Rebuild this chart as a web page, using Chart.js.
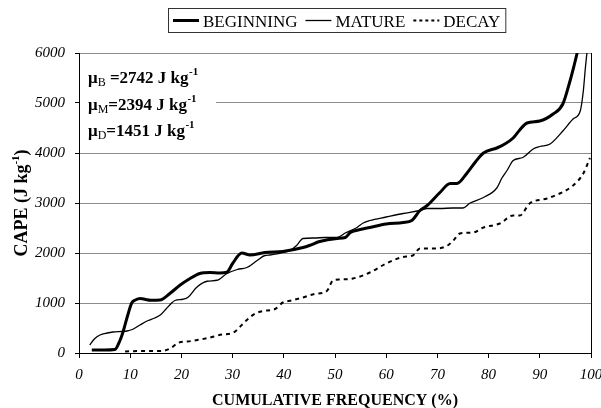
<!DOCTYPE html>
<html><head><meta charset="utf-8">
<script src="https://cdn.jsdelivr.net/npm/chart.js@4/dist/chart.umd.min.js"></script>
<style>html,body{margin:0;padding:0;background:#fff}canvas{display:block}</style>
</head><body>
<canvas id="c" width="601" height="408"></canvas>
<script>
const SERIF = '"Liberation Serif", "Times New Roman", serif';

const seriesNames = ['BEGINNING', 'MATURE', 'DECAY'];

const beginningPct  = [2.5, 5, 7, 8, 8.6, 9.5, 10.3, 11, 12, 13, 14, 15.8, 17.8, 19.7, 21.7, 23.6, 25.6, 27.5, 28.9, 30, 31.8, 33.4, 36.3, 39.8, 43.75, 45, 47, 50.4, 52, 53, 54.5, 56.8, 60, 63.3, 65, 66.6, 68, 69, 70.5, 72.5, 73.8, 75.8, 77.5, 79, 81.6, 83, 84.8, 86, 87.5, 90, 92.6, 94.5, 95.9, 96.7, 97.3];
const beginningCape = [60, 60, 70, 250, 420, 750, 1000, 1060, 1090, 1070, 1056, 1060, 1195, 1355, 1490, 1590, 1610, 1600, 1615, 1790, 2000, 1960, 2010, 2030, 2110, 2150, 2230, 2290, 2310, 2410, 2460, 2510, 2580, 2610, 2650, 2850, 2950, 3050, 3210, 3390, 3390, 3600, 3830, 4000, 4100, 4170, 4300, 4450, 4600, 4640, 4780, 4980, 5440, 5750, 6000];

const maturePct  = [2.1, 3, 4.1, 5.5, 6.6, 8.4, 9.4, 10.4, 11.9, 13.5, 14.8, 16, 17, 18, 18.75, 20.3, 21.3, 23, 25, 27, 28.9, 30.9, 32.8, 34.8, 36.3, 37.3, 39.8, 41.2, 42.5, 43.75, 46, 48, 50.4, 52, 54.3, 55.5, 56.8, 60, 63.3, 66.6, 68, 70.5, 73, 75, 76.4, 79, 81.6, 82.6, 83.6, 84.8, 86.7, 88.7, 90, 92, 94.5, 96.5, 97.9, 98.5, 98.9, 99.2];
const matureCape = [160, 280, 360, 400, 420, 430, 440, 470, 560, 650, 700, 770, 880, 990, 1050, 1075, 1115, 1315, 1435, 1455, 1590, 1670, 1710, 1850, 1950, 1960, 2010, 2050, 2150, 2290, 2300, 2310, 2310, 2400, 2510, 2600, 2650, 2720, 2790, 2850, 2890, 2890, 2900, 2900, 3000, 3110, 3300, 3500, 3650, 3850, 3910, 4080, 4130, 4180, 4440, 4680, 4840, 5240, 5700, 6000];

const decayPct  = [9, 12, 16, 18, 19.3, 22, 25.2, 28, 30, 31.8, 33, 34.4, 36, 38.3, 39.8, 41.5, 43.75, 46, 48.4, 49.6, 51, 53.5, 56.8, 60, 63.3, 65.2, 66.6, 69.9, 72, 73.1, 74.4, 77, 79, 82.2, 84.8, 86.1, 88, 91.4, 93.9, 96.5, 98.5, 99.8];
const decayCape = [30, 40, 40, 100, 200, 240, 300, 370, 400, 560, 680, 790, 840, 880, 1010, 1050, 1110, 1180, 1240, 1450, 1470, 1490, 1610, 1790, 1920, 1950, 2090, 2090, 2150, 2250, 2390, 2410, 2510, 2590, 2750, 2750, 2990, 3090, 3190, 3350, 3590, 3900];

const xTickValues = [0, 10, 20, 30, 40, 50, 60, 70, 80, 90, 100];
const yTickValues = [0, 1000, 2000, 3000, 4000, 5000, 6000];

const meanSubscripts = ['B', 'M', 'D'];
const meanValues = [2742, 2394, 1451];

const xTitle = 'CUMULATIVE FREQUENCY (%)';
const yTitle = 'CAPE (J kg';

function toPoints(xs, ys) { return xs.map((x, i) => ({ x: x, y: ys[i] })); }

const styles = [
  { borderWidth: 3, borderDash: [] },
  { borderWidth: 1.3, borderDash: [] },
  { borderWidth: 2, borderDash: [4, 4] }
];

const decor = {
  id: 'decor',
  afterDraw(chart) {
    const ctx = chart.ctx;
    const a = chart.chartArea;
    const ys = chart.scales.y;
    ctx.save();
    // right border
    ctx.strokeStyle = '#000'; ctx.lineWidth = 1;
    ctx.beginPath(); ctx.moveTo(Math.round(a.right) + 0.5, a.top); ctx.lineTo(Math.round(a.right) + 0.5, a.bottom); ctx.stroke();

    // annotation box
    ctx.fillStyle = '#fff';
    ctx.fillRect(a.left + 1, ys.getPixelForValue(5850), 136, ys.getPixelForValue(4150) - ys.getPixelForValue(5850));
    ctx.fillStyle = '#000';
    const baselines = [83, 110, 136];
    meanSubscripts.forEach((s, i) => {
      let x = a.left + 9;
      const y = baselines[i];
      ctx.font = 'bold 17px ' + SERIF;
      ctx.textBaseline = 'alphabetic'; ctx.textAlign = 'left';
      ctx.fillText('\u03bc', x, y); x += ctx.measureText('\u03bc').width;
      ctx.font = '12px ' + SERIF;
      ctx.fillText(s, x, y + 3); x += ctx.measureText(s).width;
      ctx.font = 'bold 17px ' + SERIF;
      const body = (i === 0 ? ' =' : '=') + meanValues[i] + ' J kg';
      ctx.fillText(body, x, y); x += ctx.measureText(body).width;
      ctx.font = 'bold 11px ' + SERIF;
      ctx.fillText('-1', x + 0.5, y - 8);
    });

    // x title
    ctx.font = 'bold 16px ' + SERIF;
    ctx.textAlign = 'center';
    ctx.fillText(xTitle, (a.left + a.right) / 2, 405);

    // y title (rotated)
    ctx.save();
    ctx.translate(27, (a.top + a.bottom) / 2);
    ctx.rotate(-Math.PI / 2);
    ctx.textAlign = 'left';
    ctx.font = 'bold 18px ' + SERIF;
    const w1 = ctx.measureText(yTitle).width, w3 = ctx.measureText(')').width;
    ctx.font = 'bold 11px ' + SERIF;
    const w2 = ctx.measureText('-1').width;
    let tx = -(w1 + w2 + w3) / 2;
    ctx.font = 'bold 18px ' + SERIF;
    ctx.fillText(yTitle, tx, 0); tx += w1;
    ctx.font = 'bold 11px ' + SERIF;
    ctx.fillText('-1', tx, -8); tx += w2;
    ctx.font = 'bold 18px ' + SERIF;
    ctx.fillText(')', tx, 0);
    ctx.restore();

    // legend
    ctx.font = '17px ' + SERIF;
    ctx.textAlign = 'left';
    const sample = 26, gapText = 4, gapItem = 8, padBox = 5;
    const widths = seriesNames.map(n => ctx.measureText(n).width);
    let total = padBox * 2;
    widths.forEach((w, i) => { total += sample + gapText + w + (i < widths.length - 1 ? gapItem : 0); });
    const cx = (a.left + a.right) / 2 + 2;
    const bx = Math.round(cx - total / 2);
    ctx.strokeStyle = '#333'; ctx.lineWidth = 1; ctx.setLineDash([]);
    ctx.strokeRect(bx + 0.5, 8.5, total, 24);
    let lx = bx + padBox;
    seriesNames.forEach((n, i) => {
      ctx.strokeStyle = '#000';
      ctx.lineWidth = styles[i].borderWidth;
      ctx.setLineDash(i === 2 ? [3, 3] : []);
      ctx.beginPath(); ctx.moveTo(lx, 20.5); ctx.lineTo(lx + sample, 20.5); ctx.stroke();
      lx += sample + gapText;
      ctx.setLineDash([]);
      ctx.fillText(n, lx, 27);
      lx += widths[i] + gapItem;
    });
    ctx.restore();
  }
};

const datasetsSrc = [
  [beginningPct, beginningCape],
  [maturePct, matureCape],
  [decayPct, decayCape]
];

new Chart(document.getElementById('c').getContext('2d'), {
  type: 'line',
  data: {
    datasets: datasetsSrc.map((d, i) => ({
      label: seriesNames[i],
      data: toPoints(d[0], d[1]),
      borderColor: '#000',
      borderWidth: styles[i].borderWidth,
      borderDash: styles[i].borderDash,
      pointRadius: 0,
      fill: false,
      cubicInterpolationMode: 'monotone',
      borderCapStyle: 'butt'
    }))
  },
  options: {
    responsive: false,
    animation: false,
    devicePixelRatio: 1,
    layout: { padding: { left: 0, right: 10, top: 53, bottom: 0 } },
    plugins: { legend: { display: false }, tooltip: { enabled: false } },
    scales: {
      x: {
        type: 'linear', min: 0, max: 100,
        afterBuildTicks: s => { s.ticks = xTickValues.map(v => ({ value: v })); },
        ticks: { font: { family: SERIF, size: 15, style: 'italic' }, color: '#000', padding: 8, maxRotation: 0, autoSkip: false, callback: v => String(v) },
        grid: { drawOnChartArea: false, tickLength: 5, tickColor: '#000' },
        border: { display: true, color: '#000', width: 1 },
        afterFit: s => { s.height = 55; s.paddingLeft = 0; s.paddingRight = 0; }
      },
      y: {
        type: 'linear', min: 0, max: 6000,
        afterBuildTicks: s => { s.ticks = yTickValues.map(v => ({ value: v })); },
        ticks: { font: { family: SERIF, size: 15, style: 'italic' }, color: '#000', padding: 10, callback: v => String(v) },
        grid: { color: '#8c8c8c', lineWidth: 1, tickLength: 4, tickColor: '#000' },
        border: { display: true, color: '#000', width: 1 },
        afterFit: s => { s.width = 79; }
      }
    }
  },
  plugins: [decor]
});
</script>
</body></html>
